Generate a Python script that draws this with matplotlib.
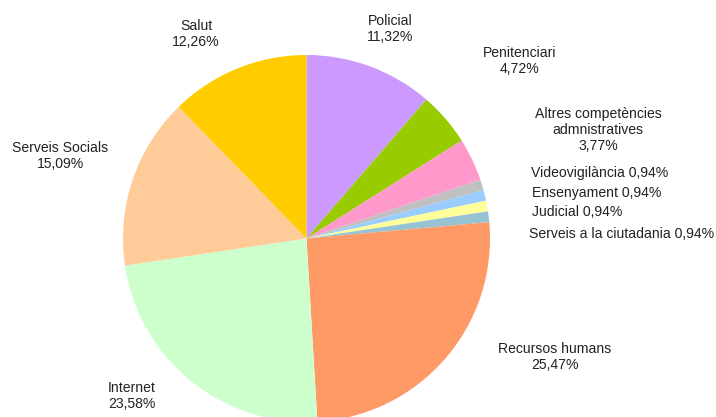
import matplotlib

matplotlib.use("Agg")
import matplotlib.pyplot as plt

plt.rcParams["font.family"] = ["Liberation Sans", "DejaVu Sans"]

# data (clockwise from 12 o'clock)
categories = [
    "Policial",
    "Penitenciari",
    "Altres competències\nadmnistratives",
    "Videovigilància",
    "Ensenyament",
    "Judicial",
    "Serveis a la ciutadania",
    "Recursos humans",
    "Internet",
    "Serveis Socials",
    "Salut",
]
shares = [11.32, 4.72, 3.77, 0.94, 0.94, 0.94, 0.94, 25.47, 23.58, 15.09, 12.26]
colors = [
    "#CC99FF", "#99CC00", "#FF99CC", "#C0C0C0", "#99CCFF", "#FFFF99",
    "#96C2D4", "#FF9966", "#CCFFCC", "#FFCC99", "#FFCC00",
]

W, H = 716, 417
fig = plt.figure(figsize=(W / 100, H / 100), dpi=100)
ax = fig.add_axes([0, 0, 1, 1])

ax.pie(
    shares,
    colors=colors,
    startangle=90,
    counterclock=False,
    center=(306.5, H - 238.5),
    radius=183.5,
    wedgeprops=dict(linewidth=0),
    frame=True,
)
ax.set_xlim(0, W)
ax.set_ylim(0, H)
ax.set_aspect("equal")
ax.axis("off")


def pct(v):
    return f"{v:.2f}".replace(".", ",") + "%"


# label placement in pixel coords: (x, y, ha, two_line)
label_pos = {
    "Policial": (390, 29, "center", True),
    "Penitenciari": (520, 61, "center", True),
    "Altres competències\nadmnistratives": (598, 130, "center", True),
    "Videovigilància": (531, 173, "left", False),
    "Ensenyament": (532, 193, "left", False),
    "Judicial": (532, 212, "left", False),
    "Serveis a la ciutadania": (529, 234, "left", False),
    "Recursos humans": (555, 357, "center", True),
    "Internet": (108, 396, "left", True),
    "Serveis Socials": (60, 156, "center", True),
    "Salut": (196, 34, "center", True),
}

for name, v in zip(categories, shares):
    x, y, ha, two = label_pos[name]
    text = f"{name}\n{pct(v)}" if two else f"{name} {pct(v)}"
    ax.text(x, H - y, text, ha=ha, va="center", fontsize=10.1,
            color="#222222", linespacing=1.2, multialignment="center")

fig.savefig("out.png", dpi=100, facecolor="white")
